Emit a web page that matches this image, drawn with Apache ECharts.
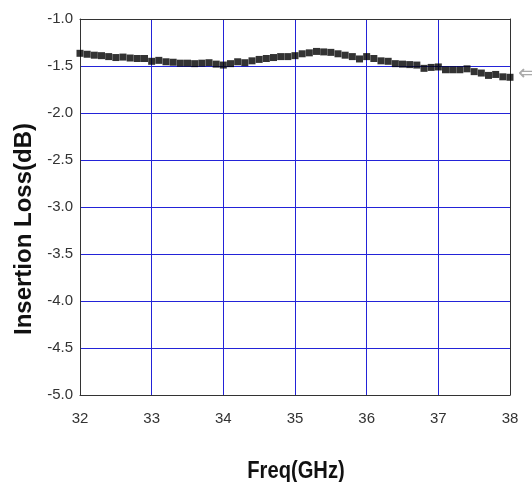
<!DOCTYPE html>
<html>
<head>
<meta charset="utf-8">
<script src="https://cdn.jsdelivr.net/npm/echarts@6/dist/echarts.min.js"></script>
<style>
  html, body { margin: 0; padding: 0; background: #fff; }
  #chart { width: 532px; height: 482px; }
</style>
</head>
<body>
<div id="chart"></div>
<script>
// frequency points (GHz)
var freqGHz = [
  32.0, 32.1, 32.2, 32.3, 32.4, 32.5, 32.6, 32.7, 32.8, 32.9,
  33.0, 33.1, 33.2, 33.3, 33.4, 33.5, 33.6, 33.7, 33.8, 33.9,
  34.0, 34.1, 34.2, 34.3, 34.4, 34.5, 34.6, 34.7, 34.8, 34.9,
  35.0, 35.1, 35.2, 35.3, 35.4, 35.5, 35.6, 35.7, 35.8, 35.9,
  36.0, 36.1, 36.2, 36.3, 36.4, 36.5, 36.6, 36.7, 36.8, 36.9,
  37.0, 37.1, 37.2, 37.3, 37.4, 37.5, 37.6, 37.7, 37.8, 37.9,
  38.0
];
// insertion loss (dB)
var lossDB = [
  -1.365, -1.375, -1.385, -1.39, -1.40, -1.41, -1.405, -1.415, -1.42, -1.42,
  -1.45, -1.44, -1.455, -1.46, -1.47, -1.47, -1.475, -1.47, -1.465, -1.48,
  -1.49, -1.475, -1.455, -1.465, -1.445, -1.43, -1.42, -1.41, -1.40, -1.40,
  -1.39, -1.37, -1.36, -1.345, -1.35, -1.355, -1.37, -1.385, -1.40, -1.425,
  -1.40, -1.42, -1.445, -1.45, -1.475, -1.48, -1.485, -1.49, -1.525, -1.515,
  -1.51, -1.54, -1.54, -1.54, -1.53, -1.56, -1.575, -1.60, -1.59, -1.615,
  -1.62
];
var xTicks = [32, 33, 34, 35, 36, 37, 38];
var yMin = -5.0, yMax = -1.0, yStep = 0.5;
var xTitle = 'Freq(GHz)';
var yTitle = 'Insertion Loss(dB)';

var points = freqGHz.map(function (f, i) { return [f, lossDB[i]]; });

var gridBlue = '#2323d8';
var frameColor = '#333';
var labelFont = 'Liberation Sans, Arial, sans-serif';

var chart = echarts.init(document.getElementById('chart'));
chart.setOption({
  animation: false,
  backgroundColor: '#fff',
  grid: { left: 80, top: 19, width: 430, height: 376, containLabel: false },
  xAxis: [
    {
      type: 'value',
      min: xTicks[0],
      max: xTicks[xTicks.length - 1],
      interval: 1,
      axisLine: { show: true, onZero: false, lineStyle: { color: frameColor, width: 1 } },
      axisTick: { show: false },
      axisLabel: { fontFamily: labelFont, fontSize: 15, color: '#333', margin: 16 },
      splitLine: { show: true, lineStyle: { color: gridBlue, width: 1 } }
    },
    {
      type: 'value', position: 'top',
      min: xTicks[0], max: xTicks[xTicks.length - 1],
      axisLine: { show: true, onZero: false, lineStyle: { color: frameColor, width: 1 } },
      axisTick: { show: false }, axisLabel: { show: false }, splitLine: { show: false }
    }
  ],
  yAxis: [
    {
      type: 'value',
      min: yMin,
      max: yMax,
      interval: yStep,
      axisLine: { show: true, onZero: false, lineStyle: { color: frameColor, width: 1 } },
      axisTick: { show: false },
      axisLabel: {
        fontFamily: labelFont, fontSize: 15, color: '#333', margin: 7,
        formatter: function (v) { return v.toFixed(1); }
      },
      splitLine: { show: true, lineStyle: { color: gridBlue, width: 1 } }
    },
    {
      type: 'value', position: 'right',
      min: yMin, max: yMax,
      axisLine: { show: true, onZero: false, lineStyle: { color: frameColor, width: 1 } },
      axisTick: { show: false }, axisLabel: { show: false }, splitLine: { show: false }
    }
  ],
  series: [
    {
      name: 'Insertion Loss',
      type: 'scatter',
      data: points,
      symbol: 'rect',
      symbolSize: [7, 7],
      itemStyle: { color: '#000' }
    }
  ],
  graphic: [
    {
      // axis titles placed like the reference (y title sits below the plot centre)
      type: 'text',
      x: 296, y: 471,
      scaleX: 0.84,
      style: {
        text: xTitle, fontSize: 24, fontWeight: 'bold', fontFamily: labelFont,
        fill: '#111', align: 'center', verticalAlign: 'middle'
      }
    },
    {
      type: 'text',
      x: 24, y: 229,
      rotation: Math.PI / 2,
      style: {
        text: yTitle, fontSize: 24, fontWeight: 'bold', fontFamily: labelFont,
        fill: '#111', align: 'center', verticalAlign: 'middle'
      }
    },
    {
      type: 'text',
      left: 518,
      top: 63,
      style: { text: '⇐', fontSize: 22, fill: '#aaa', fontFamily: 'DejaVu Sans' }
    }
  ]
});
</script>
</body>
</html>
